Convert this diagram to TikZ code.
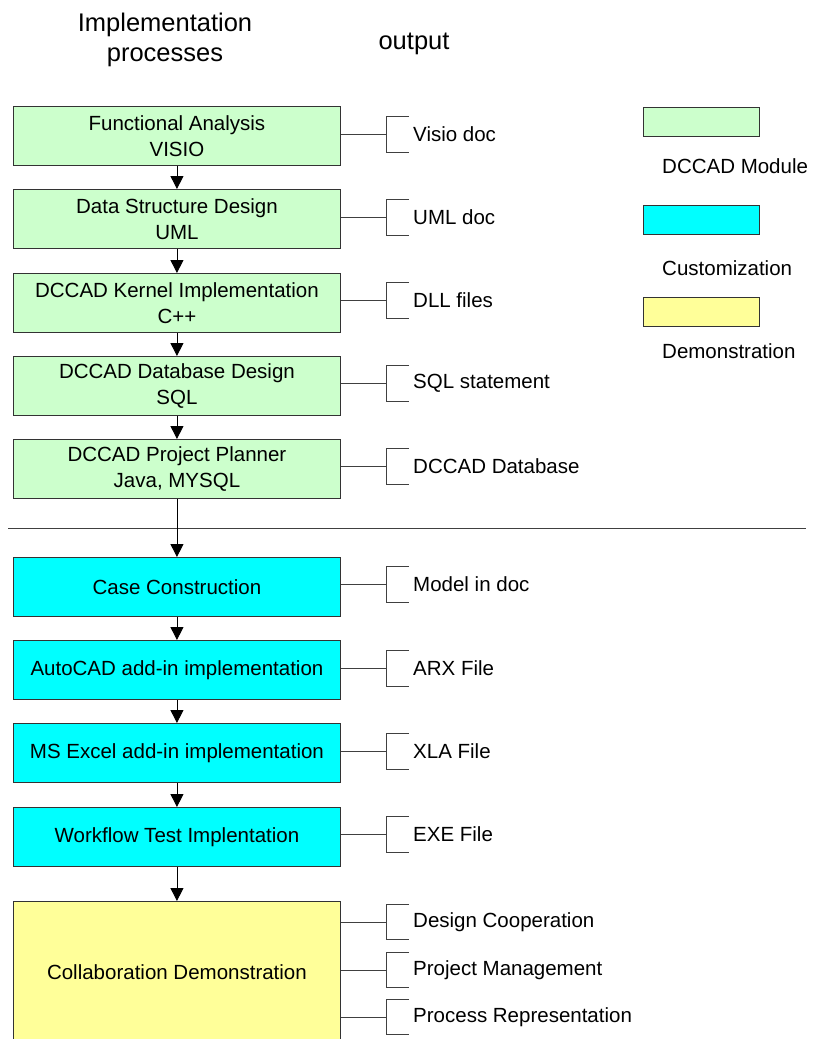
\documentclass[tikz,border=0pt]{standalone}
\usepackage{fontspec}
\setmainfont{Liberation Sans}
\usetikzlibrary{arrows.meta}
\definecolor{modgreen}{HTML}{CCFFCC}
\definecolor{custcyan}{HTML}{00FFFF}
\definecolor{demoyellow}{HTML}{FFFF99}
\begin{document}
\begin{tikzpicture}[x=1pt,y=-1pt,
  proc/.style={draw=black!80, line width=0.9pt, minimum width=327pt, minimum height=59pt,
    anchor=north west, inner sep=0pt, align=center, font=\fontsize{20.5}{26}\selectfont},
  dccad/.style={proc, fill=modgreen},
  cust/.style={proc, fill=custcyan},
  demo/.style={proc, fill=demoyellow},
  swatch/.style={draw=black!80, line width=0.9pt, minimum width=116pt, minimum height=29pt,
    anchor=north west, inner sep=0pt},
  flow/.style={line width=0.9pt, -{Triangle[width=13pt,length=13pt]}},
  outtext/.style={anchor=west, inner sep=0pt, font=\fontsize{20.5}{26}\selectfont},
  legtext/.style={anchor=base west, inner sep=0pt, font=\fontsize{20.5}{26}\selectfont},
  headtext/.style={align=center, inner sep=0pt, font=\fontsize{25.5}{30}\selectfont},
  tie/.style={line width=0.8pt, draw=black!75},
]
\useasboundingbox (0,0) rectangle (813,1039);
\clip (0,0) rectangle (813,1039);

% column headings
\node[headtext] (hproc) at (165,40) {Implementation\\processes};
\node[headtext] (hout) at (414,44) {output};

% DCCAD module steps
\node[dccad] (b1) at (13,106) {Functional Analysis\\VISIO};
\node[dccad] (b2) at (13,189) {Data Structure Design\\UML};
\node[dccad] (b3) at (13,273) {DCCAD Kernel Implementation\\C++};
\node[dccad] (b4) at (13,356) {DCCAD Database Design\\SQL};
\node[dccad] (b5) at (13,439) {DCCAD Project Planner\\Java, MYSQL};

% divider between module and customization phases
\coordinate (sepL) at (8,528);
\coordinate (sepR) at (806,528);
\draw[tie, line width=0.9pt] (sepL) -- (sepR);

% customization steps
\node[cust] (b6) at (13,557) {Case Construction};
\node[cust] (b7) at (13,640) {AutoCAD add-in implementation};
\node[cust] (b8) at (13,723) {MS Excel add-in implementation};
\node[cust] (b9) at (13,807) {Workflow Test Implentation};

% demonstration
\node[demo, minimum height=142pt] (b10) at (13,901) {Collaboration Demonstration};

% flow arrows
\foreach \a/\b in {b1/b2, b2/b3, b3/b4, b4/b5, b5/b6, b6/b7, b7/b8, b8/b9, b9/b10}
  \draw[flow] (\a.south) -- (\b.north);

% outputs with their brackets
\foreach \b/\y/\h/\n/\t in {
    b1/134/18/o1/Visio doc,
    b2/217/18/o2/UML doc,
    b3/300/18/o3/DLL files,
    b4/383/18/o4/SQL statement,
    b5/466/18/o5/DCCAD Database,
    b6/584/18/o6/Model in doc,
    b7/668/18/o7/ARX File,
    b8/751/18/o8/XLA File,
    b9/834/18/o9/EXE File,
    b10/922/17.5/o10/Design Cooperation,
    b10/970/17.5/o11/Project Management,
    b10/1017/17.5/o12/Process Representation} {
  \coordinate (k\n) at (386,\y);
  \coordinate (kt\n) at (409,{\y-\h});
  \coordinate (kb\n) at (409,{\y+\h});
  \draw[tie] (\b.east |- k\n) -- (k\n);
  \draw[tie] (kt\n) -- (kt\n -| k\n) -- (kb\n -| k\n) -- (kb\n);
  \node[outtext] (\n) at (413,\y) {\t};
}

% legend
\node[swatch, fill=modgreen] (l1) at (643,107) {};
\node[legtext] (lt1) at (662,173) {DCCAD Module};
\node[swatch, fill=custcyan] (l2) at (643,205) {};
\node[legtext] (lt2) at (662,275) {Customization};
\node[swatch, fill=demoyellow] (l3) at (643,297) {};
\node[legtext] (lt3) at (662,358) {Demonstration};
\end{tikzpicture}
\end{document}
